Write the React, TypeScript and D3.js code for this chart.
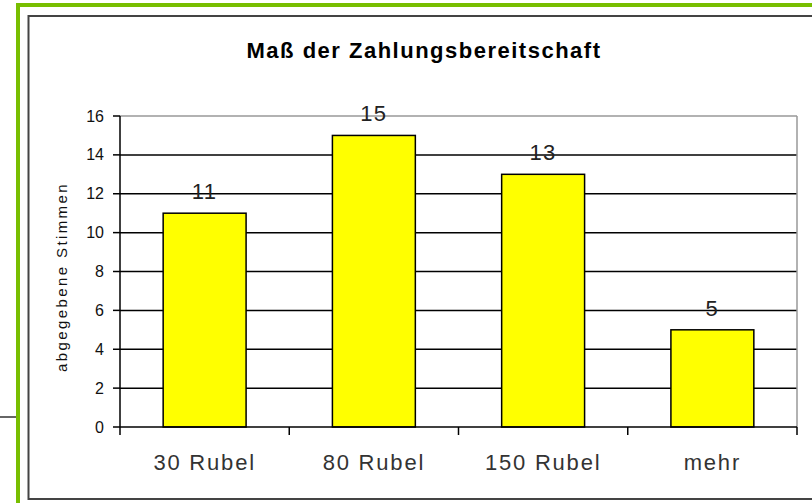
import React from "react";
import * as d3 from "d3";

const title = "Maß der Zahlungsbereitschaft";
const yTitle = "abgegebene Stimmen";
const categories = ["30 Rubel", "80 Rubel", "150 Rubel", "mehr"];
const votes = [11, 15, 13, 5];
const yTicks = [0, 2, 4, 6, 8, 10, 12, 14, 16];

const W = 812;
const H = 503;
const plot = { left: 120, right: 797, top: 116, bottom: 427 };
const font = "'Liberation Sans', Arial, sans-serif";

export default function App() {
  const x = d3
    .scaleBand<string>()
    .domain(categories)
    .range([plot.left, plot.right])
    .padding(0);
  const y = d3.scaleLinear().domain([0, 16]).range([plot.bottom, plot.top]);
  const bw = x.bandwidth() * 0.49;
  const off = (x.bandwidth() - bw) / 2;
  // category boundaries for the tick marks under the axis
  const bounds = categories.map((c) => x(c) as number).concat(plot.right);

  return (
    <svg
      width={W}
      height={H}
      style={{ position: "absolute", left: 0, top: 0, background: "#fff" }}
    >
      {/* outer frames */}
      <line x1={0} x2={16} y1={417} y2={417} stroke="#333" strokeWidth={1.5} />
      <rect x={18} y={5} width={W} height={H} fill="none" stroke="#78be00" strokeWidth={4} />
      <rect x={28.5} y={16} width={W} height={483} fill="none" stroke="#444" strokeWidth={2} />

      <text
        x={424}
        y={58}
        textAnchor="middle"
        fontFamily={font}
        fontWeight="bold"
        fontSize={22}
        letterSpacing={1.5}
        fill="#000"
      >
        {title}
      </text>

      {/* gridlines */}
      {yTicks.slice(1, -1).map((t) => (
        <line key={t} x1={plot.left} x2={plot.right} y1={y(t)} y2={y(t)} stroke="#000" strokeWidth={1.5} />
      ))}
      {/* plot border top/right */}
      <line x1={plot.left} x2={plot.right} y1={y(16)} y2={y(16)} stroke="#999" strokeWidth={1.5} />
      <line x1={plot.right} x2={plot.right} y1={plot.top} y2={plot.bottom} stroke="#999" strokeWidth={1.5} />

      {/* bars */}
      {categories.map((c, i) => (
        <rect
          key={c}
          x={(x(c) as number) + off}
          y={y(votes[i])}
          width={bw}
          height={y(0) - y(votes[i])}
          fill="#ffff00"
          stroke="#000"
          strokeWidth={1.5}
        />
      ))}
      {categories.map((c, i) => (
        <text
          key={c}
          x={(x(c) as number) + x.bandwidth() / 2}
          y={y(votes[i]) - 14}
          textAnchor="middle"
          fontFamily={font}
          fontSize={22}
          letterSpacing={1.5}
          fill="#222"
        >
          {votes[i]}
        </text>
      ))}

      {/* y axis */}
      <line x1={plot.left} x2={plot.left} y1={plot.top} y2={plot.bottom} stroke="#000" strokeWidth={1.5} />
      {yTicks.map((t) => (
        <g key={t}>
          <line x1={plot.left - 7} x2={plot.left} y1={y(t)} y2={y(t)} stroke="#000" strokeWidth={1.5} />
          <text
            x={104}
            y={y(t)}
            dy="0.35em"
            textAnchor="end"
            fontFamily={font}
            fontSize={16}
            fill="#111"
          >
            {t}
          </text>
        </g>
      ))}
      <text
        transform={`translate(67,${(182 + 372) / 2}) rotate(-90)`}
        textAnchor="middle"
        fontFamily={font}
        fontSize={15}
        letterSpacing={2.4}
        fill="#111"
      >
        {yTitle}
      </text>

      {/* x axis */}
      <line x1={plot.left} x2={plot.right} y1={plot.bottom} y2={plot.bottom} stroke="#000" strokeWidth={1.5} />
      {bounds.map((b, i) => (
        <line key={i} x1={b} x2={b} y1={plot.bottom} y2={plot.bottom + 8} stroke="#000" strokeWidth={1.5} />
      ))}
      {categories.map((c) => (
        <text
          key={c}
          x={(x(c) as number) + x.bandwidth() / 2}
          y={470}
          textAnchor="middle"
          fontFamily={font}
          fontSize={22}
          letterSpacing={1.8}
          fill="#333"
        >
          {c}
        </text>
      ))}
    </svg>
  );
}
